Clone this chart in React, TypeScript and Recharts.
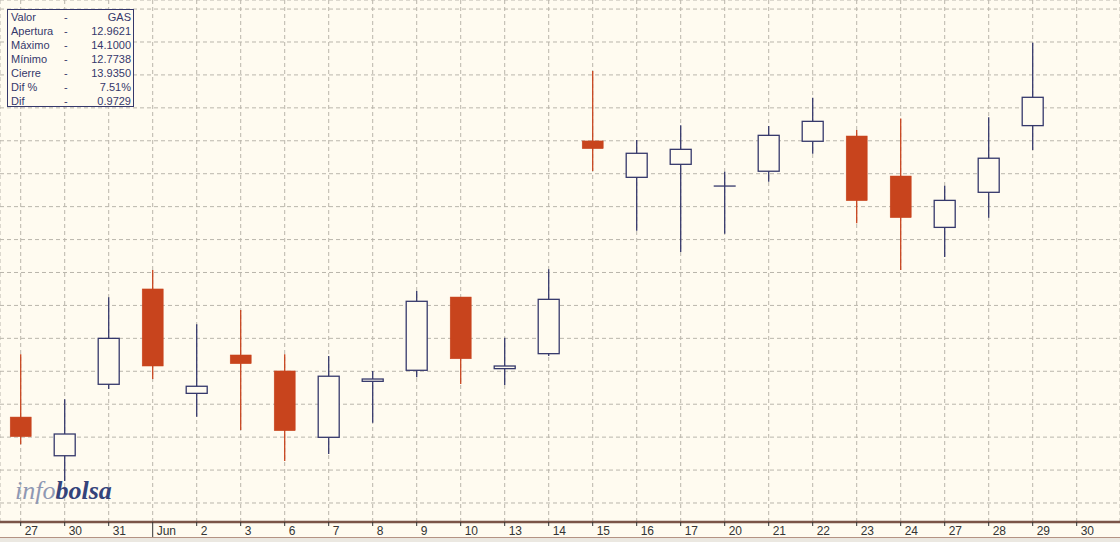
import React from "react";
import { ComposedChart, Bar, XAxis, YAxis, CartesianGrid } from "recharts";

// session labels shown on the time axis (last one has no candle yet)
const days = [
  "27", "30", "31", "Jun", "2", "3", "6", "7", "8", "9", "10", "13", "14",
  "15", "16", "17", "20", "21", "22", "23", "24", "27", "28", "29", "30",
];

const opens = [
  11.822, 11.587, 12.021, 12.6, 11.966, 12.199, 12.102, 11.699, 12.039, 12.106,
  12.551, 12.116, 12.207, 13.499, 13.278, 13.357, 13.225, 13.315, 13.497, 13.529,
  13.286, 12.974, 13.187, 13.592,
];
const highs = [
  12.203, 11.93, 12.549, 12.715, 12.385, 12.472, 12.203, 12.193, 12.102, 12.588,
  12.551, 12.304, 12.719, 13.924, 13.505, 13.594, 13.312, 13.59, 13.762, 13.565,
  13.636, 13.227, 13.643, 14.096,
];
const lows = [
  11.657, 11.434, 11.992, 12.053, 11.824, 11.743, 11.555, 11.598, 11.788, 12.063,
  12.023, 12.017, 12.193, 13.316, 12.954, 12.824, 12.936, 13.251, 13.421, 12.999,
  12.715, 12.794, 13.033, 13.444,
];
const closes = [
  11.703, 11.719, 12.3, 12.132, 12.009, 12.146, 11.739, 12.07, 12.053, 12.525,
  12.176, 12.132, 12.537, 13.452, 13.424, 13.448, 13.225, 13.533, 13.618, 13.136,
  13.033, 13.138, 13.394, 13.764,
];

const priceGrid = [
  11.3, 11.5, 11.7, 11.9, 12.1, 12.3, 12.5, 12.7, 12.9, 13.1, 13.3, 13.5, 13.7,
  13.9, 14.1, 14.3,
];

const infoRows = [
  ["Valor", "GAS"],
  ["Apertura", "12.9621"],
  ["Máximo", "14.1000"],
  ["Mínimo", "12.7738"],
  ["Cierre", "13.9350"],
  ["Dif %", "7.51%"],
  ["Dif", "0.9729"],
];

const BG = "#fffbf0";
const RED = "#c8441d";
const NAVY = "#35386b";

const data = opens.map((o, i) => ({
  i,
  open: o,
  high: highs[i],
  low: lows[i],
  close: closes[i],
  range: [lows[i], highs[i]],
}));

const Candle = (props: any) => {
  const { x, y, width, height, payload } = props;
  const { open, close, high, low } = payload;
  const top = Math.min(y, y + height);
  const span = Math.abs(height);
  const toY = (v: number) => top + ((high - v) / (high - low)) * span;
  const cx = x + width / 2;
  const up = close >= open;
  const color = up ? NAVY : RED;
  const bTop = toY(Math.max(open, close));
  const bBot = toY(Math.min(open, close));
  return (
    <g>
      <line x1={cx} x2={cx} y1={top} y2={top + span} stroke={color} strokeWidth={1.3} />
      {bBot - bTop < 1 ? (
        <line x1={x} x2={x + width} y1={bTop} y2={bTop} stroke={color} strokeWidth={1.3} />
      ) : (
        <rect
          x={x + 0.5}
          y={bTop}
          width={width - 1}
          height={bBot - bTop}
          fill={up ? BG : RED}
          stroke={color}
          strokeWidth={up ? 1.3 : 0.5}
        />
      )}
    </g>
  );
};

const DayTick = (props: any) => {
  const { x, y, payload } = props;
  const label = days[payload.value];
  const isMonth = label === "Jun";
  return (
    <g>
      <line x1={x} x2={x} y1={y} y2={isMonth ? y + 16 : y + 4} stroke="#333" strokeWidth={1} />
      <text
        x={x + 4}
        y={y + 13}
        fontSize={12}
        fill="#333"
        fontFamily="'Liberation Sans', Arial, sans-serif"
      >
        {label}
      </text>
    </g>
  );
};

export default function App() {
  return (
    <div
      style={{
        position: "fixed",
        left: 0,
        top: 0,
        width: 1120,
        height: 542,
        background: BG,
        overflow: "hidden",
      }}
    >
      <ComposedChart
        width={1120}
        height={542}
        data={data}
        margin={{ top: 0, right: 0, left: 0, bottom: 0 }}
      >
        <CartesianGrid stroke="#bab6ac" strokeDasharray="4 3" />
        <XAxis
          type="number"
          dataKey="i"
          domain={[-0.4705, 24.9841]}
          allowDataOverflow
          ticks={days.map((_, i) => i)}
          interval={0}
          height={20}
          tickSize={0}
          tickMargin={0}
          tickLine={false}
          tick={<DayTick />}
          axisLine={{ stroke: "#7a5548", strokeWidth: 2.5 }}
        />
        <YAxis
          hide
          type="number"
          domain={[11.1846, 14.355]}
          allowDataOverflow
          ticks={priceGrid}
        />
        <Bar dataKey="range" barSize={22} shape={<Candle />} isAnimationActive={false} />
      </ComposedChart>

      <div
        style={{
          position: "absolute",
          left: 0,
          top: 537,
          width: 1120,
          height: 5,
          borderTop: "1px solid #b49283",
          background: "#ebe8e1",
        }}
      />

      <div
        style={{
          position: "absolute",
          left: 7,
          top: 9,
          width: 125,
          height: 96,
          border: `1px solid ${NAVY}`,
          background: BG,
          fontFamily: "'Liberation Sans', Arial, sans-serif",
          fontSize: 11,
          color: NAVY,
        }}
      >
        {infoRows.map(([k, v], r) => (
          <div key={k} style={{ position: "absolute", top: 0 + r * 14, left: 0, width: 125, height: 14, lineHeight: "14px" }}>
            <span style={{ position: "absolute", left: 3 }}>{k}</span>
            <span style={{ position: "absolute", left: 56 }}>-</span>
            <span style={{ position: "absolute", right: 2 }}>{v}</span>
          </div>
        ))}
      </div>

      <div
        style={{
          position: "absolute",
          left: 15,
          top: 476,
          fontFamily: "'Liberation Serif', 'DejaVu Serif', serif",
          fontStyle: "italic",
          fontSize: 26,
          lineHeight: "30px",
        }}
      >
        <span style={{ color: "#8f98b3" }}>info</span>
        <span style={{ color: "#34437a", fontWeight: 600 }}>bolsa</span>
      </div>
    </div>
  );
}
